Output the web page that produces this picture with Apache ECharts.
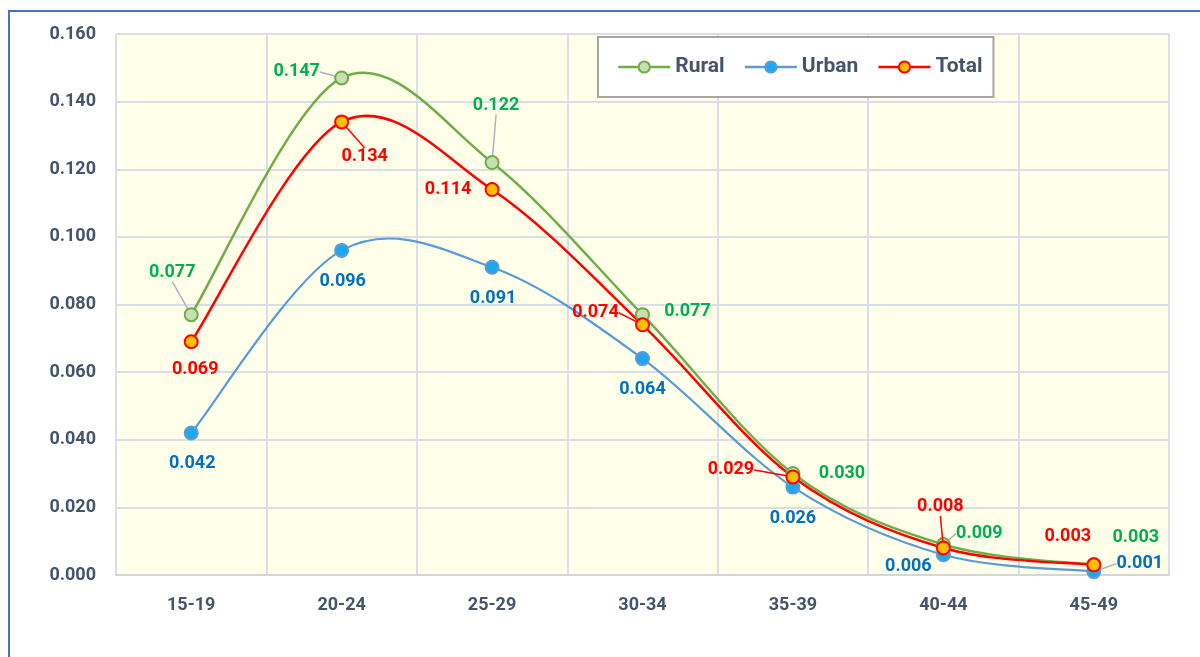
<!DOCTYPE html>
<html>
<head>
    <meta charset="utf-8">
    <title>Age-specific fertility rate</title>
    <script src="https://cdn.jsdelivr.net/npm/echarts@6/dist/echarts.min.js"></script>
    <style>
        html, body { margin: 0; padding: 0; background: #fff; }
        #chart1 { width: 1200px; height: 657px; }
    </style>
</head>
<body>
<div id="chart1"></div>
<script>
    // 数据
    var ageGroups = ['15-19', '20-24', '25-29', '30-34', '35-39', '40-44', '45-49'];
    var rural = [0.077, 0.147, 0.122, 0.077, 0.030, 0.009, 0.003];
    var urban = [0.042, 0.096, 0.091, 0.064, 0.026, 0.006, 0.001];
    var total = [0.069, 0.134, 0.114, 0.074, 0.029, 0.008, 0.003];

    // 标签偏移 (dx, dy) 以及是否画引导线
    var labelShift = [
        [[-19, -42, 1], [-45, -6, 1], [4, -57, 1], [45, -3, 0], [49, 0, 0], [36, -11, 1], [42, -27, 0]],
        [[1, 31, 0], [1, 31, 0], [1, 31, 0], [0, 31, 0], [0, 31, 0], [-35, 12, 0], [46, -8, 1]],
        [[4, 28, 0], [23, 35, 1], [-44, 0, 0], [-47, -12, 1], [-62, -7, 1], [-3, -41, 1], [-26, -28, 0]]
    ];

    var font = 'Roboto, "Liberation Sans", sans-serif';

    // Excel 风格的平滑曲线 (Catmull-Rom -> Bezier)
    function splineSeries(values, color, width, z) {
        return {
            type: 'custom',
            data: values,
            z: z,
            silent: true,
            renderItem: function (params, api) {
                if (params.dataIndex !== 0) return null;
                var p = values.map(function (v, i) { return api.coord([i, v]); });
                var d = 'M' + p[0][0] + ',' + p[0][1];
                for (var i = 0; i < p.length - 1; i++) {
                    var p0 = p[Math.max(i - 1, 0)], p1 = p[i], p2 = p[i + 1], p3 = p[Math.min(i + 2, p.length - 1)];
                    var c1x = p1[0] + (p2[0] - p0[0]) / 6, c1y = p1[1] + (p2[1] - p0[1]) / 6;
                    var c2x = p2[0] - (p3[0] - p1[0]) / 6, c2y = p2[1] - (p3[1] - p1[1]) / 6;
                    d += ' C' + c1x + ',' + c1y + ' ' + c2x + ',' + c2y + ' ' + p2[0] + ',' + p2[1];
                }
                return {
                    type: 'path',
                    shape: { pathData: d },
                    style: { fill: 'none', stroke: color, lineWidth: width }
                };
            }
        };
    }

    function pointSeries(name, values, idx, fillColor, borderColor, labelColor, guideColor, z) {
        return {
            name: name,
            type: 'line',
            data: values.map(function (v, i) {
                return {
                    value: v,
                    labelLine: { show: labelShift[idx][i][2] === 1 }
                };
            }),
            symbol: 'circle',
            symbolSize: 13,
            lineStyle: { width: 0, opacity: 0 },
            itemStyle: { color: fillColor, borderColor: borderColor, borderWidth: 2 },
            label: {
                show: true,
                position: 'inside',
                color: labelColor,
                fontFamily: font,
                fontWeight: 'bold',
                fontSize: 18,
                formatter: function (p) { return p.value.toFixed(3); }
            },
            labelLine: { lineStyle: { color: guideColor, width: 1.5 } },
            labelLayout: function (p) {
                var s = labelShift[idx][p.dataIndex];
                return { dx: s[0], dy: s[1] };
            },
            z: z,
            emphasis: { disabled: true }
        };
    }

    var myChart = echarts.init(document.getElementById('chart1'));

    var legendText = { color: '#44546A', fontFamily: font, fontWeight: 'bold', fontSize: 21, lineHeight: 24 };

    var option = {
        backgroundColor: '#ffffff',
        animation: false,
        graphic: [{
            type: 'rect',
            shape: { x: 9, y: 11, width: 1220, height: 700 },
            style: { fill: 'none', stroke: '#4472C4', lineWidth: 2 },
            z: 0
        }],
        grid: {
            left: 116, right: 31, top: 34, bottom: 82,
            show: true,
            backgroundColor: '#FFFFEA',
            borderColor: '#D0D6E0',
            borderWidth: 1
        },
        legend: {
            left: 598, top: 37,
            padding: [18, 11, 18, 19],
            backgroundColor: '#ffffff',
            borderColor: '#A6A6A6',
            borderWidth: 2,
            itemWidth: 52,
            itemHeight: 14,
            itemGap: 19,
            textStyle: legendText,
            data: [
                { name: 'Rural', lineStyle: { color: '#70AD47', width: 2.5, opacity: 1 } },
                { name: 'Urban', lineStyle: { color: '#5B9BD5', width: 2.5, opacity: 1 } },
                { name: 'Total', lineStyle: { color: '#FF0000', width: 2.5, opacity: 1 } }
            ]
        },
        xAxis: {
            type: 'category',
            data: ageGroups,
            boundaryGap: true,
            axisLine: { lineStyle: { color: '#D0D6E0', width: 2 } },
            axisTick: { show: false },
            splitLine: { show: true, lineStyle: { color: '#D9DEE8', width: 2 } },
            axisLabel: { color: '#44546A', fontFamily: font, fontWeight: 'bold', fontSize: 18, margin: 21 }
        },
        yAxis: {
            type: 'value',
            min: 0, max: 0.16, interval: 0.02,
            axisLine: { show: false },
            axisTick: { show: false },
            splitLine: { lineStyle: { color: '#D9DEE8', width: 2 } },
            axisLabel: {
                color: '#44546A', fontFamily: font, fontWeight: 'bold', fontSize: 18, margin: 20,
                formatter: function (v) { return v.toFixed(3); }
            }
        },
        series: [
            splineSeries(urban, '#5B9BD5', 2.2, 2),
            splineSeries(rural, '#70AD47', 2.5, 2),
            splineSeries(total, '#FF0000', 2.5, 2),
            pointSeries('Rural', rural, 0, '#C5E0B4', '#70AD47', '#00B050', '#A9B4C2', 4),
            pointSeries('Urban', urban, 1, '#1EA7EF', '#5B9BD5', '#0070C0', '#A9B4C2', 3),
            pointSeries('Total', total, 2, '#FFC000', '#FF0000', '#FF0000', '#FF0000', 5)
        ]
    };

    myChart.setOption(option);
</script>
</body>
</html>
